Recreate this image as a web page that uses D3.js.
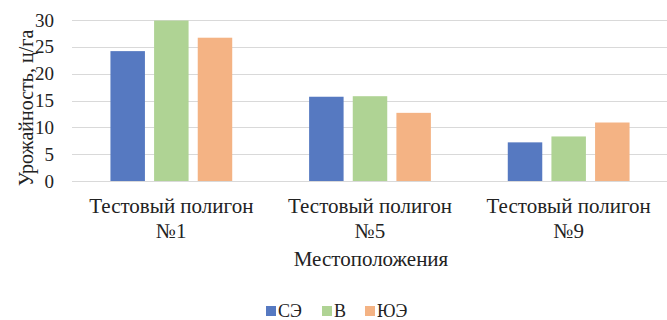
<!DOCTYPE html>
<html>
<head>
<meta charset="utf-8">
<script src="https://cdn.jsdelivr.net/npm/d3@7"></script>
<style>
  body { margin: 0; background: #fff; }
  svg text { font-family: "Liberation Serif", "Times New Roman", Tinos, serif !important; }
</style>
</head>
<body>
<svg id="chart"></svg>
<script>
// data
const categories = [["Тестовый полигон", "№1"], ["Тестовый полигон", "№5"], ["Тестовый полигон", "№9"]];
const seriesNames = ["СЭ", "В", "ЮЭ"];
const seriesColors = ["#5679c1", "#afd394", "#f4b384"];
const valuesSE = [24.2, 15.7, 7.2];
const valuesV = [29.9, 15.8, 8.3];
const valuesUE = [26.7, 12.7, 10.9];
const yTicks = [0, 5, 10, 15, 20, 25, 30];

const seriesValues = [valuesSE, valuesV, valuesUE];

const width = 667, height = 320;
const margin = {top: 20, left: 72, right: 0, bottom: 139};

const svg = d3.select("#chart")
  .attr("width", width)
  .attr("height", height);

// scales
const x0 = d3.scaleBand()
  .domain(d3.range(categories.length))
  .range([margin.left, 668])
  .paddingInner(0.387)
  .paddingOuter(0.1935);

const x1 = d3.scaleBand()
  .domain(seriesNames)
  .range([0, x0.bandwidth()])
  .paddingInner(0.21);

const y = d3.scaleLinear()
  .domain([0, 30])
  .range([181, margin.top]);

const color = d3.scaleOrdinal().domain(seriesNames).range(seriesColors);

// gridlines
svg.append("g")
  .selectAll("line")
  .data(yTicks)
  .join("line")
  .attr("x1", margin.left)
  .attr("x2", width)
  .attr("y1", d => Math.round(y(d)) + 0.5)
  .attr("y2", d => Math.round(y(d)) + 0.5)
  .attr("stroke", "#d9d9d9")
  .attr("stroke-width", 1);

// y tick labels
svg.append("g")
  .selectAll("text")
  .data(yTicks)
  .join("text")
  .attr("x", 54)
  .attr("y", d => y(d))
  .attr("dy", "0.35em")
  .attr("text-anchor", "end")
  .attr("fill", "#222")
  .attr("font-family", "Liberation Serif")
  .attr("font-size", 19)
  .text(d => d);

// bars
const groups = svg.append("g")
  .selectAll("g")
  .data(categories.map((c, i) => i))
  .join("g")
  .attr("transform", i => `translate(${x0(i)},0)`);

groups.selectAll("rect")
  .data(i => seriesNames.map((s, k) => ({name: s, value: seriesValues[k][i]})))
  .join("rect")
  .attr("x", d => x1(d.name))
  .attr("y", d => y(d.value))
  .attr("width", x1.bandwidth())
  .attr("height", d => y(0) - y(d.value))
  .attr("fill", d => color(d.name));

// category labels
const catLabels = svg.append("g")
  .selectAll("text")
  .data(categories)
  .join("text")
  .attr("x", (d, i) => x0(i) + x0.bandwidth() / 2)
  .attr("y", 213)
  .attr("text-anchor", "middle")
  .attr("fill", "#222")
  .attr("font-family", "Liberation Serif")
  .attr("font-size", 21);

catLabels.selectAll("tspan")
  .data(d => d)
  .join("tspan")
  .attr("x", function() { return d3.select(this.parentNode).attr("x"); })
  .attr("dy", (d, k) => k === 0 ? 0 : 25)
  .text(d => d);

// axis titles
svg.append("text")
  .attr("x", 371)
  .attr("y", 266)
  .attr("text-anchor", "middle")
  .attr("fill", "#222")
  .attr("font-family", "Liberation Serif")
  .attr("font-size", 21)
  .text("Местоположения");

svg.append("text")
  .attr("transform", "translate(33,108) rotate(-90)")
  .attr("text-anchor", "middle")
  .attr("fill", "#222")
  .attr("font-family", "Liberation Serif")
  .attr("font-size", 20)
  .text("Урожайность, ц/га");

// legend
const legendX = [266, 322, 365];
const legend = svg.append("g")
  .selectAll("g")
  .data(seriesNames)
  .join("g")
  .attr("transform", (d, i) => `translate(${legendX[i]},306)`);

legend.append("rect")
  .attr("width", 10)
  .attr("height", 10)
  .attr("fill", d => color(d));

legend.append("text")
  .attr("x", 12)
  .attr("y", 5)
  .attr("dy", "0.35em")
  .attr("fill", "#222")
  .attr("font-family", "Liberation Serif")
  .attr("font-size", 18)
  .text(d => d);
</script>
</body>
</html>
